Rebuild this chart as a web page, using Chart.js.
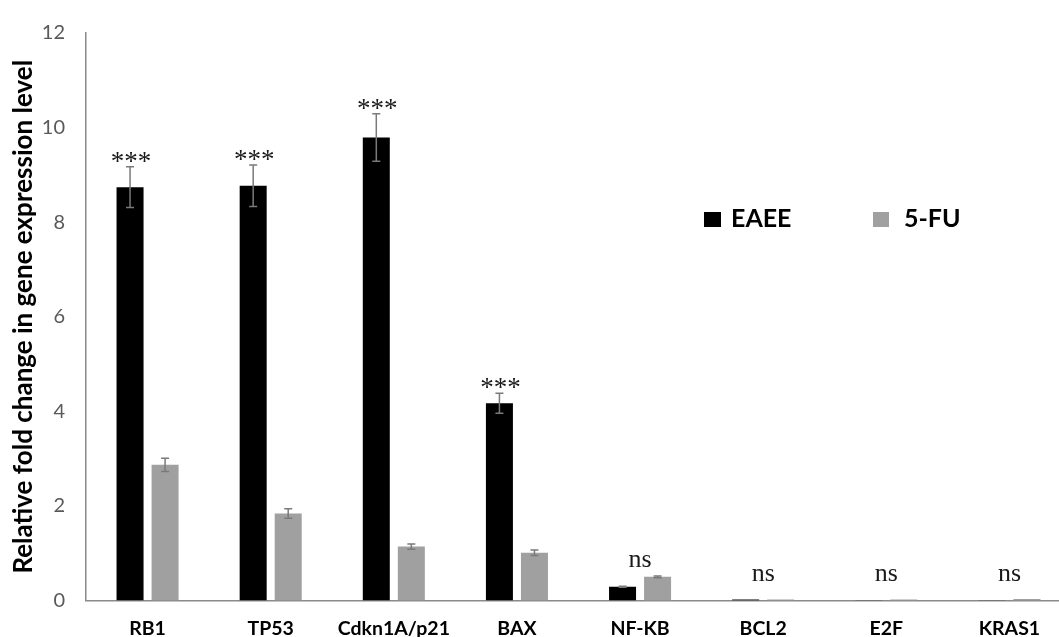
<!DOCTYPE html>
<html>
<head>
<meta charset="utf-8">
<title>Relative fold change in gene expression</title>
<script src="https://cdn.jsdelivr.net/npm/chart.js@4.4.1/dist/chart.umd.min.js"></script>
<style>
  html, body { margin: 0; padding: 0; background: #ffffff; overflow: hidden; width: 1059px; height: 637px; }
  #wrap { width: 1080px; height: 637px; }
</style>
</head>
<body>
<div id="wrap"><canvas id="chart" width="1080" height="637"></canvas></div>
<script>
// Genes on the x axis
const categories = ['RB1', 'TP53', 'Cdkn1A/p21', 'BAX', 'NF-KB', 'BCL2', 'E2F', 'KRAS1'];

// Mean relative fold change per treatment
const eaeeValues = [8.74, 8.77, 9.79, 4.17, 0.29, 0.02, 0.003, 0.003];
const fuValues   = [2.87, 1.84, 1.14, 1.01, 0.50, 0.02, 0.02, 0.03];

// Error bar half-lengths
const eaeeErrors = [0.43, 0.44, 0.50, 0.21, 0.01, 0, 0, 0];
const fuErrors   = [0.14, 0.10, 0.055, 0.06, 0.02, 0, 0, 0];

// Significance marks per gene
const significance = ['***', '***', '***', '***', 'ns', 'ns', 'ns', 'ns'];

// Y axis range and step
const yTicks = { min: 0, max: 12, step: 2 };

const seriesNames = ['EAEE', '5-FU'];
const seriesColors = ['#000000', '#a0a0a0'];

// Error bars drawn from the dataset values
const errorBarPlugin = {
  id: 'errorBars',
  afterDatasetsDraw(chart) {
    const ctx = chart.ctx;
    const y = chart.scales.y;
    const errs = [eaeeErrors, fuErrors];
    ctx.save();
    ctx.strokeStyle = '#7a7a7a';
    ctx.lineWidth = 1.5;
    chart.data.datasets.forEach((ds, di) => {
      const meta = chart.getDatasetMeta(di);
      meta.data.forEach((bar, i) => {
        const e = errs[di][i];
        if (!e) return;
        const v = ds.data[i];
        const yt = y.getPixelForValue(v + e);
        const yb = y.getPixelForValue(v - e);
        const cap = 4;
        ctx.beginPath();
        ctx.moveTo(bar.x, yt); ctx.lineTo(bar.x, yb);
        ctx.moveTo(bar.x - cap, yt); ctx.lineTo(bar.x + cap, yt);
        ctx.moveTo(bar.x - cap, yb); ctx.lineTo(bar.x + cap, yb);
        ctx.stroke();
      });
    });
    ctx.restore();
  }
};

// Significance labels above each gene
const significancePlugin = {
  id: 'significance',
  afterDatasetsDraw(chart) {
    const ctx = chart.ctx;
    const y = chart.scales.y;
    const x = chart.scales.x;
    const metaE = chart.getDatasetMeta(0);
    ctx.save();
    ctx.fillStyle = '#1a1a1a';
    ctx.textAlign = 'center';
    ctx.textBaseline = 'alphabetic';
    significance.forEach((s, i) => {
      const top = y.getPixelForValue(eaeeValues[i] + eaeeErrors[i]);
      if (s === 'ns') {
        ctx.font = '26px "Liberation Serif"';
        ctx.fillText(s, x.getPixelForValue(i), top - 19);
      } else {
        ctx.font = '27px "Liberation Serif"';
        ctx.fillText(s, metaE.data[i].x + 1, top + 3);
      }
    });
    ctx.restore();
  }
};

// Legend placed inside the plot area
const legendPlugin = {
  id: 'insideLegend',
  afterDraw(chart) {
    const ctx = chart.ctx;
    const items = [
      { box: [704, 212, 17, 15], textX: 731 },
      { box: [873, 212, 16, 15], textX: 904 }
    ];
    ctx.save();
    ctx.font = 'bold 25px Lato';
    ctx.textBaseline = 'middle';
    ctx.textAlign = 'left';
    items.forEach((it, i) => {
      ctx.fillStyle = seriesColors[i];
      ctx.fillRect(it.box[0], it.box[1], it.box[2], it.box[3]);
      ctx.fillStyle = '#000000';
      ctx.fillText(seriesNames[i], it.textX, 219);
    });
    ctx.restore();
  }
};

new Chart(document.getElementById('chart'), {
  type: 'bar',
  data: {
    labels: categories,
    datasets: [
      { label: seriesNames[0], data: eaeeValues, backgroundColor: seriesColors[0] },
      { label: seriesNames[1], data: fuValues, backgroundColor: seriesColors[1] }
    ]
  },
  options: {
    responsive: false,
    animation: false,
    devicePixelRatio: 1,
    layout: { padding: { left: 0, right: 9, top: 22, bottom: 0 } },
    datasets: { bar: { categoryPercentage: 0.569, barPercentage: 0.771 } },
    plugins: { legend: { display: false }, tooltip: { enabled: false } },
    scales: {
      x: {
        offset: true,
        grid: { display: false, drawTicks: false },
        border: { display: true, color: '#8a8a8a', width: 1.5 },
        ticks: { color: '#000000', font: { family: 'Lato', size: 19.5, weight: 'bold' }, padding: 17, maxRotation: 0, autoSkip: false },
        afterFit(scale) { scale.height = 36.5; }
      },
      y: {
        min: yTicks.min,
        max: yTicks.max,
        grid: { display: false, drawTicks: false },
        border: { display: true, color: '#8a8a8a', width: 1.5 },
        ticks: { stepSize: yTicks.step, color: '#595959', font: { family: 'Lato', size: 20 }, padding: 21 },
        title: {
          display: true,
          text: 'Relative fold change in gene expression level',
          color: '#000000',
          font: { family: 'Lato', size: 26, weight: 'bold' },
          padding: { top: 8, bottom: 0 }
        },
        afterFit(scale) { scale.width = 86; }
      }
    }
  },
  plugins: [errorBarPlugin, significancePlugin, legendPlugin]
});
</script>
</body>
</html>
